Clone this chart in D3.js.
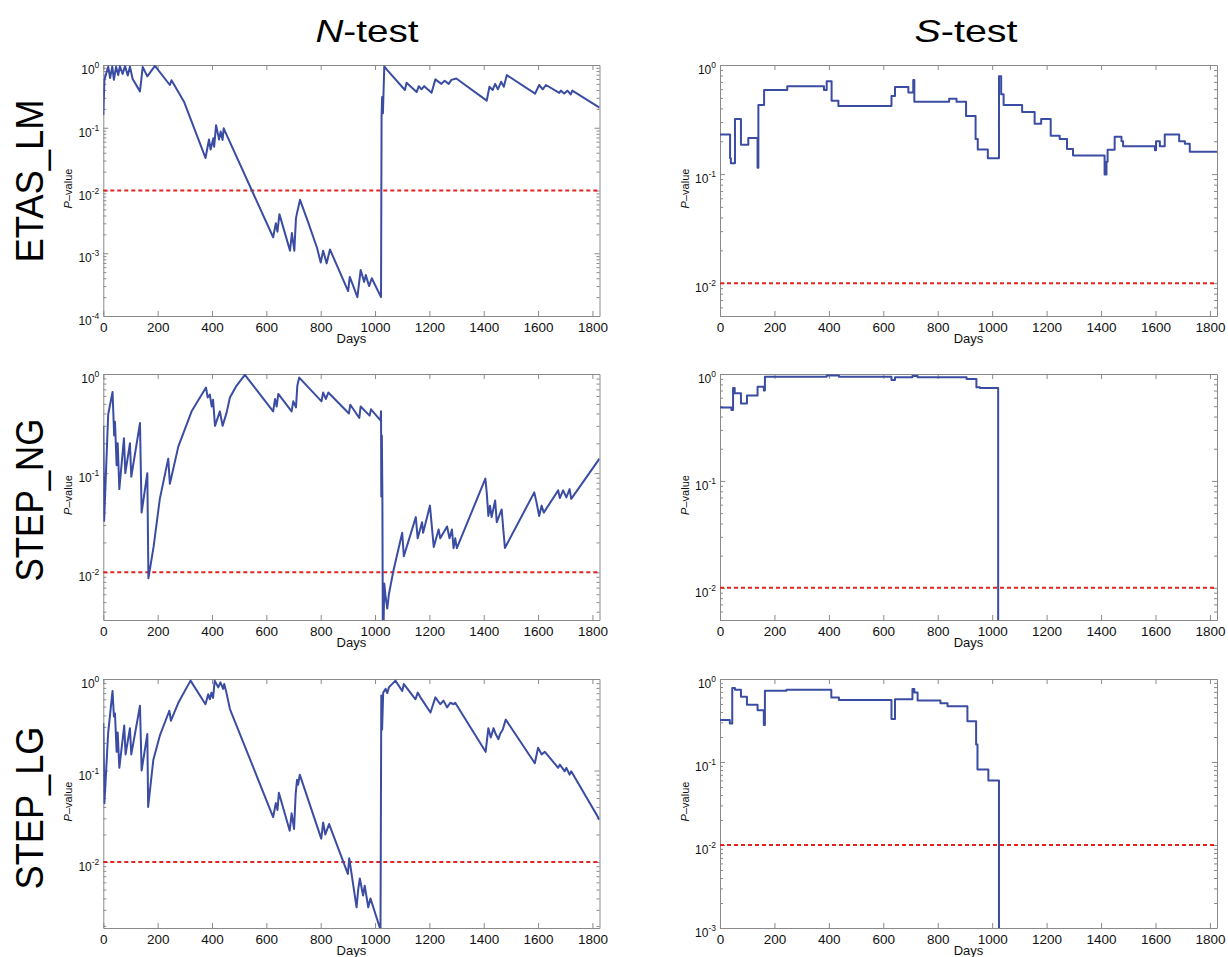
<!DOCTYPE html>
<html>
<head>
<meta charset="utf-8">
<script src="https://cdn.jsdelivr.net/npm/d3@7"></script>
<style>
  body { margin: 0; background: #fff; }
  svg { display: block; font-family: "Liberation Sans", Arial, Helvetica, sans-serif; }
</style>
</head>
<body>
<svg id="chart" width="1228" height="957"></svg>
<script>
// Row / column names
const models = ["ETAS_LM", "STEP_NG", "STEP_LG"];
const tests = [["N", "-test"], ["S", "-test"]];
const xTicks = [0, 200, 400, 600, 800, 1000, 1200, 1400, 1600, 1800];
const dayMax = 1826;
const threshold = 0.01;

// [day, P-value]
const etasLmN = [[0,0.16],[4,0.58],[9,0.69],[18,0.94],[25,0.62],[33,0.95],[39,0.58],[47,0.94],[55,0.69],[61,0.96],[71,0.72],[80,0.96],[90,0.68],[98,0.94],[108,0.6],[135,0.38],[145,0.93],[162,0.66],[190,0.97],[245,0.48],[251,0.57],[297,0.26],[376,0.033],[389,0.065],[395,0.045],[405,0.068],[408,0.05],[415,0.11],[426,0.065],[432,0.087],[439,0.064],[443,0.098],[625,0.0018],[635,0.003],[641,0.0022],[648,0.0042],[687,0.0011],[694,0.0021],[703,0.0011],[709,0.0036],[714,0.0046],[724,0.0071],[754,0.0031],[787,0.0012],[800,0.00071],[809,0.0011],[822,0.00069],[834,0.00115],[901,0.00025],[907,0.00042],[920,0.0003],[935,0.0002],[947,0.00054],[960,0.00035],[966,0.00045],[978,0.0003],[988,0.0004],[1022,0.0002],[1024,0.15],[1026,0.31],[1029,0.17],[1034,0.95],[1045,0.83],[1110,0.4],[1116,0.52],[1153,0.37],[1161,0.46],[1171,0.41],[1181,0.46],[1208,0.36],[1222,0.59],[1244,0.5],[1256,0.56],[1271,0.5],[1281,0.58],[1299,0.61],[1411,0.27],[1421,0.45],[1433,0.4],[1442,0.5],[1452,0.41],[1464,0.54],[1474,0.45],[1485,0.69],[1589,0.35],[1604,0.48],[1617,0.41],[1629,0.48],[1678,0.36],[1684,0.39],[1696,0.35],[1708,0.39],[1720,0.34],[1726,0.39],[1826,0.21]];

const etasLmS = [[0,0.23],[37,0.14],[40,0.126],[55,0.32],[77,0.186],[104,0.214],[138,0.114],[141,0.43],[162,0.59],[247,0.64],[382,0.59],[392,0.71],[410,0.47],[435,0.42],[630,0.52],[643,0.63],[692,0.56],[710,0.73],[714,0.46],[842,0.49],[869,0.46],[904,0.34],[939,0.21],[947,0.168],[984,0.14],[1025,0.79],[1033,0.54],[1042,0.43],[1110,0.37],[1156,0.29],[1180,0.32],[1215,0.225],[1248,0.21],[1275,0.17],[1297,0.148],[1413,0.099],[1420,0.13],[1424,0.167],[1450,0.22],[1475,0.2],[1481,0.18],[1598,0.165],[1602,0.2],[1616,0.18],[1634,0.23],[1687,0.2],[1708,0.19],[1726,0.16],[1826,0.16]];

const stepNgN = [[0,0.3],[3,0.033],[18,0.39],[34,0.66],[40,0.24],[43,0.33],[49,0.12],[53,0.2],[59,0.069],[76,0.225],[81,0.1],[98,0.2],[103,0.092],[135,0.32],[141,0.04],[162,0.1],[166,0.0087],[185,0.018],[208,0.055],[239,0.14],[245,0.078],[276,0.185],[325,0.42],[378,0.73],[384,0.58],[392,0.62],[399,0.47],[404,0.55],[411,0.3],[429,0.42],[439,0.3],[454,0.41],[466,0.58],[490,0.76],[521,0.98],[625,0.42],[632,0.56],[638,0.47],[644,0.63],[693,0.42],[699,0.53],[709,0.46],[714,0.76],[721,0.92],[803,0.53],[809,0.65],[819,0.56],[828,0.65],[904,0.4],[909,0.49],[942,0.36],[947,0.47],[980,0.38],[985,0.44],[1020,0.34],[1022,0.42],[1023,0.058],[1025,0.24],[1027,0.06],[1029,0.0012],[1034,0.0077],[1039,0.0056],[1045,0.0043],[1051,0.006],[1068,0.0105],[1100,0.025],[1106,0.0145],[1150,0.036],[1157,0.022],[1173,0.032],[1177,0.025],[1202,0.047],[1216,0.018],[1234,0.027],[1240,0.022],[1265,0.029],[1274,0.022],[1283,0.027],[1289,0.0175],[1295,0.022],[1301,0.0175],[1406,0.088],[1411,0.064],[1417,0.037],[1423,0.047],[1429,0.036],[1442,0.053],[1448,0.032],[1466,0.043],[1472,0.027],[1478,0.0176],[1586,0.064],[1594,0.051],[1604,0.037],[1613,0.047],[1621,0.04],[1674,0.067],[1680,0.056],[1692,0.067],[1704,0.057],[1716,0.069],[1722,0.055],[1826,0.14]];

const stepNgS = [[0,0.485],[42,0.46],[48,0.74],[54,0.66],[77,0.53],[99,0.63],[138,0.76],[161,0.7],[165,0.94],[392,0.97],[437,0.94],[630,0.88],[643,0.93],[707,0.96],[726,0.93],[906,0.9],[942,0.75],[955,0.74],[1022,0.00001]];

const stepLgN = [[0,0.33],[4,0.044],[18,0.26],[34,0.74],[39,0.39],[43,0.42],[49,0.16],[53,0.26],[59,0.107],[77,0.31],[82,0.15],[98,0.29],[103,0.15],[135,0.51],[141,0.1],[162,0.25],[165,0.04],[184,0.13],[208,0.24],[243,0.45],[249,0.35],[276,0.55],[321,0.96],[376,0.53],[386,0.68],[392,0.6],[398,0.71],[404,0.62],[410,0.96],[423,0.81],[431,0.92],[441,0.78],[445,0.88],[453,0.71],[466,0.47],[625,0.031],[635,0.044],[641,0.037],[646,0.057],[686,0.022],[693,0.034],[702,0.023],[708,0.056],[713,0.079],[717,0.07],[723,0.09],[802,0.018],[809,0.027],[817,0.02],[831,0.026],[900,0.0074],[905,0.011],[932,0.0032],[938,0.005],[944,0.0066],[956,0.0043],[962,0.0055],[975,0.0032],[983,0.004],[1018,0.0019],[1020,0.0015],[1023,0.66],[1026,0.28],[1030,0.71],[1039,0.78],[1045,0.7],[1051,0.81],[1075,0.96],[1100,0.74],[1106,0.88],[1149,0.6],[1157,0.71],[1167,0.63],[1177,0.57],[1204,0.43],[1222,0.63],[1240,0.53],[1252,0.58],[1265,0.49],[1277,0.55],[1289,0.53],[1295,0.55],[1407,0.16],[1417,0.29],[1426,0.23],[1436,0.29],[1444,0.25],[1454,0.22],[1460,0.25],[1470,0.28],[1481,0.36],[1588,0.12],[1600,0.177],[1613,0.15],[1625,0.16],[1674,0.107],[1680,0.116],[1698,0.098],[1704,0.107],[1716,0.09],[1722,0.098],[1826,0.029]];

const stepLgS = [[0,0.32],[36,0.29],[45,0.78],[55,0.74],[77,0.61],[99,0.49],[138,0.42],[161,0.28],[165,0.72],[244,0.74],[409,0.6],[437,0.56],[630,0.33],[643,0.57],[707,0.76],[714,0.69],[726,0.55],[810,0.51],[836,0.47],[909,0.31],[941,0.163],[946,0.081],[986,0.06],[1025,0.00001]];

// Panel layout
const colX = [[103.3, 599.5], [720, 1217]];
const rowY = [[65, 316], [374, 620], [679, 928]];
const panels = [
  { row: 0, col: 0, data: etasLmN, step: false, yMin: 1e-4 },
  { row: 0, col: 1, data: etasLmS, step: true, yMin: 0.005 },
  { row: 1, col: 0, data: stepNgN, step: false, yMin: 0.0033 },
  { row: 1, col: 1, data: stepNgS, step: true, yMin: 0.005 },
  { row: 2, col: 0, data: stepLgN, step: false, yMin: 0.0019 },
  { row: 2, col: 1, data: stepLgS, step: true, yMin: 0.001 }
];

const axisColor = "#8a8a8a";
const lineColor = "#3b4ca3";
const dashColor = "#e3231f";

const svg = d3.select("#chart");

function styleAxis(g) {
  g.attr("font-family", null).attr("font-size", null);
  g.selectAll("path, line").attr("stroke", axisColor);
}

function drawPanel(p, i) {
  const [x0, x1] = colX[p.col];
  const [y0, y1] = rowY[p.row];

  const x = d3.scaleLinear().domain([0, dayMax]).range([x0, x1]);
  const y = d3.scaleLog().domain([p.yMin, 1]).range([y1, y0]);

  const lo = Math.floor(Math.log10(p.yMin));
  const decades = d3.range(Math.ceil(Math.log10(p.yMin) - 1e-9), 1).map(e => Math.pow(10, e));
  const minors = [];
  for (let e = lo; e < 0; e++) {
    for (let m = 2; m <= 9; m++) {
      const v = m * Math.pow(10, e);
      if (v >= p.yMin && v <= 1) minors.push(v);
    }
  }

  svg.append("clipPath")
    .attr("id", "clip" + i)
    .append("rect")
    .attr("x", x0).attr("y", y0)
    .attr("width", x1 - x0).attr("height", y1 - y0);

  const g = svg.append("g");

  // x axes (bottom with labels, top without)
  g.append("g")
    .attr("transform", `translate(0, ${y1})`)
    .call(d3.axisBottom(x).tickValues(xTicks).tickSizeInner(-5).tickSizeOuter(0).tickPadding(6).tickFormat(d3.format("d")))
    .call(styleAxis)
    .call(a => a.selectAll("text").attr("fill", "#111").style("font-size", "13.5px"));

  g.append("g")
    .attr("transform", `translate(0, ${y0})`)
    .call(d3.axisTop(x).tickValues(xTicks).tickSizeInner(-5).tickSizeOuter(0).tickFormat(""))
    .call(styleAxis);

  // y axes, major + minor ticks, left and right
  g.append("g")
    .attr("transform", `translate(${x0}, 0)`)
    .call(d3.axisLeft(y).tickValues(decades).tickSizeInner(-5).tickSizeOuter(0).tickFormat(""))
    .call(styleAxis);
  g.append("g")
    .attr("transform", `translate(${x0}, 0)`)
    .call(d3.axisLeft(y).tickValues(minors).tickSizeInner(-3).tickSizeOuter(0).tickFormat(""))
    .call(styleAxis)
    .call(a => a.select(".domain").remove());
  g.append("g")
    .attr("transform", `translate(${x1}, 0)`)
    .call(d3.axisRight(y).tickValues(decades).tickSizeInner(-5).tickSizeOuter(0).tickFormat(""))
    .call(styleAxis);
  g.append("g")
    .attr("transform", `translate(${x1}, 0)`)
    .call(d3.axisRight(y).tickValues(minors).tickSizeInner(-3).tickSizeOuter(0).tickFormat(""))
    .call(styleAxis)
    .call(a => a.select(".domain").remove());

  // y tick labels 10^k
  decades.forEach(v => {
    const e = Math.round(Math.log10(v));
    const t = g.append("text")
      .attr("x", x0 - 4)
      .attr("y", y(v) + 9)
      .attr("text-anchor", "end")
      .attr("fill", "#111")
      .style("font-size", "12px");
    t.append("tspan").text("10");
    t.append("tspan").attr("dy", -6).style("font-size", "8.5px").text(e === 0 ? "0" : "-" + Math.abs(e));
  });

  // axis titles
  g.append("text")
    .attr("x", (x0 + x1) / 2)
    .attr("y", y1 + 27)
    .attr("text-anchor", "middle")
    .attr("fill", "#111")
    .style("font-size", "13px")
    .text("Days");

  const yl = g.append("text")
    .attr("transform", `translate(${x0 - 31}, ${(y0 + y1) / 2 - 2}) rotate(-90)`)
    .attr("text-anchor", "middle")
    .attr("fill", "#111")
    .style("font-size", "11px");
  yl.append("tspan").style("font-style", "italic").text("P");
  yl.append("tspan").text("\u2013value");

  // significance level
  g.append("line")
    .attr("x1", x0).attr("x2", x1)
    .attr("y1", y(threshold)).attr("y2", y(threshold))
    .attr("stroke", dashColor)
    .attr("stroke-width", 2)
    .attr("stroke-dasharray", "4,3");

  // P-value series
  const line = d3.line()
    .x(d => x(d[0]))
    .y(d => y(d[1]))
    .curve(p.step ? d3.curveStepAfter : d3.curveLinear);

  g.append("path")
    .datum(p.data)
    .attr("clip-path", `url(#clip${i})`)
    .attr("d", line)
    .attr("fill", "none")
    .attr("stroke", lineColor)
    .attr("stroke-width", 2)
    .attr("stroke-linejoin", "round");
}

panels.forEach((p, i) => drawPanel(p, i));

// column titles
const titleX = [367, 966];
tests.forEach((t, c) => {
  const tt = svg.append("text")
    .attr("x", titleX[c])
    .attr("y", 42)
    .attr("text-anchor", "middle")
    .attr("fill", "#000")
    .attr("textLength", 103)
    .attr("lengthAdjust", "spacingAndGlyphs")
    .style("font-size", "32px");
  tt.append("tspan").style("font-style", "italic").text(t[0]);
  tt.append("tspan").text(t[1]);
});

// row titles
const rowLabelY = [181, 500, 808];
models.forEach((m, r) => {
  svg.append("text")
    .attr("transform", `translate(43, ${rowLabelY[r]}) rotate(-90)`)
    .attr("text-anchor", "middle")
    .attr("fill", "#000")
    .attr("textLength", 163)
    .attr("lengthAdjust", "spacingAndGlyphs")
    .style("font-size", "39px")
    .text(m);
});
</script>
</body>
</html>
